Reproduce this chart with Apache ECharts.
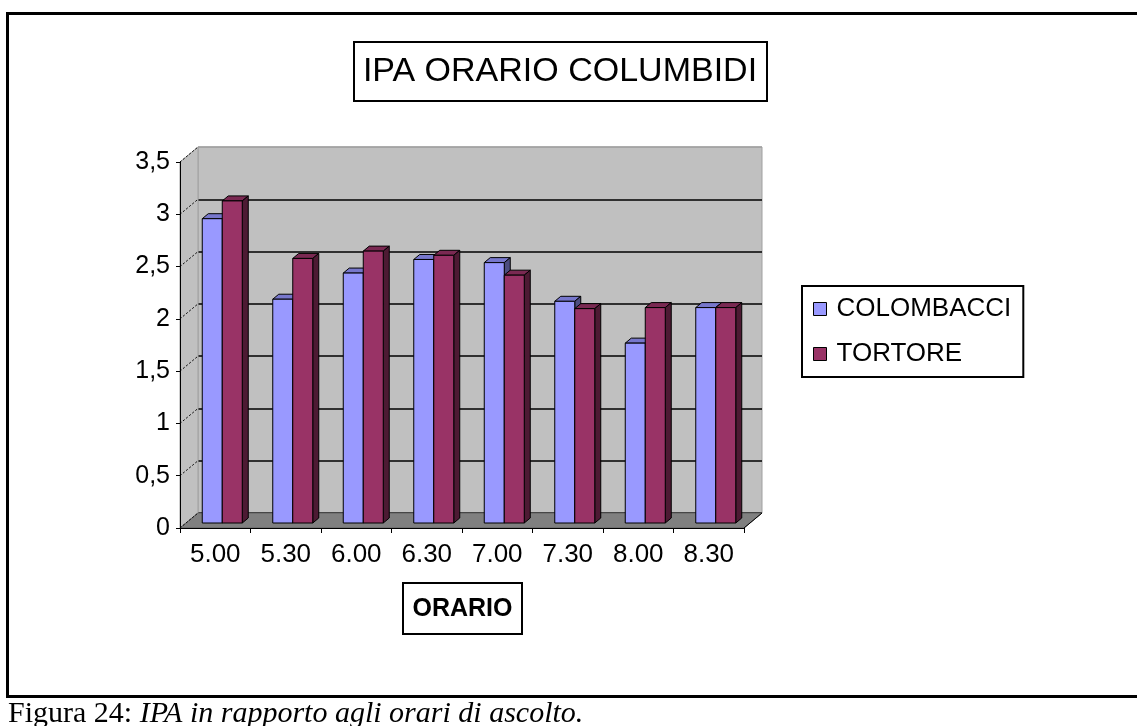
<!DOCTYPE html>
<html>
<head>
<meta charset="utf-8">
<script src="https://cdn.jsdelivr.net/npm/echarts@6/dist/echarts.min.js"></script>
<style>
html,body{margin:0;padding:0;background:#fff;}
#main{width:1137px;height:726px;}
</style>
</head>
<body>
<div id="main"></div>
<script>
// ---- data ----
const categories = ['5.00','5.30','6.00','6.30','7.00','7.30','8.00','8.30'];
const colombacci = [2.91, 2.14, 2.39, 2.52, 2.49, 2.12, 1.72, 2.06];
const tortore    = [3.08, 2.53, 2.60, 2.56, 2.37, 2.05, 2.06, 2.06];
const seriesNames = ['COLOMBACCI','TORTORE'];
const yTicks = [0, 0.5, 1, 1.5, 2, 2.5, 3, 3.5];
const chartTitle = 'IPA ORARIO COLUMBIDI';
const axisTitle = 'ORARIO';

// ---- layout ----
const FONT = "'Liberation Sans', Arial, sans-serif";
const SERIF = "'Liberation Serif','Times New Roman',serif";
const FRONT = {left:180, top:162, width:564, height:366};
const BACK  = {left:198, top:147, width:564, height:366};
const BARS  = {left:187, top:157, width:564, height:366};
const BAR_W = 20, DX = 6, DY = 5;

const chart = echarts.init(document.getElementById('main'), null, {renderer:'canvas'});

function bar3d(front, topC, sideC, side) {
  return function (params, api) {
    const ci = api.value(0), v = api.value(1);
    const p0 = api.coord([ci, 0]);
    const p1 = api.coord([ci, v]);
    const x = side < 0 ? p0[0] - BAR_W : p0[0];
    const y = p1[1], h = p0[1] - p1[1];
    return {
      type: 'group',
      children: [
        {type:'polygon', shape:{points:[[x,y],[x+DX,y-DY],[x+BAR_W+DX,y-DY],[x+BAR_W,y]]},
         style:{fill:topC, stroke:'#000', lineWidth:1}},
        {type:'polygon', shape:{points:[[x+BAR_W,y],[x+BAR_W+DX,y-DY],[x+BAR_W+DX,y+h-DY],[x+BAR_W,y+h]]},
         style:{fill:sideC, stroke:'#000', lineWidth:1}},
        {type:'rect', shape:{x:x, y:y, width:BAR_W, height:h},
         style:{fill:front, stroke:'#000', lineWidth:1}}
      ]
    };
  };
}

const frameGraphics = [
  {id:'frameTop', type:'line', shape:{x1:7, y1:13.5, x2:1137, y2:13.5}, style:{stroke:'#000', lineWidth:3}, z:100},
  {id:'frameLeft', type:'line', shape:{x1:7.5, y1:12, x2:7.5, y2:697}, style:{stroke:'#000', lineWidth:3}, z:100},
  {id:'frameBottom', type:'line', shape:{x1:6, y1:696.5, x2:1137, y2:696.5}, style:{stroke:'#000', lineWidth:3}, z:100},
  {id:'titleBox', type:'rect', shape:{x:354, y:42, width:413, height:59}, style:{fill:'#fff', stroke:'#000', lineWidth:2}, z:100},
  {id:'titleText', type:'text', x:560, y:72, z:101,
   style:{text:chartTitle, font:"34px " + FONT, fill:'#000', align:'center', verticalAlign:'middle'}},
  {id:'axBox', type:'rect', shape:{x:403, y:583, width:119, height:51}, style:{fill:'#fff', stroke:'#000', lineWidth:2}, z:100},
  {id:'axText', type:'text', x:462.5, y:609, z:101,
   style:{text:axisTitle, font:"bold 25px " + FONT, fill:'#000', align:'center', verticalAlign:'middle'}},
  {id:'caption', type:'text', x:8, y:699, z:101,
   style:{
     text:'{n|Figura 24: }{i|IPA in rapporto agli orari di ascolto.}',
     rich:{
       n:{fontFamily:SERIF, fontSize:30, fill:'#000', color:'#000'},
       i:{fontFamily:SERIF, fontSize:30, fontStyle:'italic', fill:'#000', color:'#000'}
     },
     verticalAlign:'top', align:'left'
   }},
  // left side wall
  {id:'leftWall', type:'polygon', z:-5,
   shape:{points:[[FRONT.left,FRONT.top],[BACK.left,BACK.top],[BACK.left,BACK.top+BACK.height],[FRONT.left,FRONT.top+FRONT.height]]},
   style:{fill:'#c0c0c0', stroke:'#a0a0a0', lineWidth:1}},
  // floor
  {id:'floor', type:'polygon', z:-4,
   shape:{points:[[FRONT.left,FRONT.top+FRONT.height],[BACK.left,BACK.top+BACK.height],[BACK.left+BACK.width,BACK.top+BACK.height],[FRONT.left+FRONT.width,FRONT.top+FRONT.height]]},
   style:{fill:'#808080', stroke:'#606060', lineWidth:1}},
  {id:'floorEdge', type:'line', z:-3,
   shape:{x1:FRONT.left+FRONT.width, y1:FRONT.top+FRONT.height, x2:BACK.left+BACK.width, y2:BACK.top+BACK.height},
   style:{stroke:'#000', lineWidth:1}}
];

const option = {
  animation: false,
  backgroundColor: '#fff',
  textStyle: {fontFamily: FONT},
  legend: {
    orient: 'vertical',
    left: 802, top: 286,
    data: seriesNames,
    icon: 'rect',
    itemWidth: 13, itemHeight: 13, itemGap: 19,
    padding: [10, 12, 10, 11],
    borderColor: '#000', borderWidth: 2,
    backgroundColor: '#fff',
    itemStyle: {borderColor:'#000', borderWidth:1},
    textStyle: {fontSize: 26, lineHeight: 26, color: '#000', fontFamily: FONT, padding:[0,0,0,5]}
  },
  grid: [
    Object.assign({show:false}, FRONT),
    Object.assign({show:true, backgroundColor:'#c0c0c0', borderColor:'#a0a0a0', borderWidth:1, z:-10}, BACK),
    Object.assign({show:false}, BARS)
  ],
  xAxis: [
    {type:'category', gridIndex:0, data:categories,
     axisLine:{show:true, lineStyle:{color:'#000', width:1}},
     axisTick:{show:true, length:5, interval:0, lineStyle:{color:'#000'}},
     axisLabel:{fontSize:26, color:'#000', margin:14, fontFamily:FONT, interval:0},
     splitLine:{show:false}, z:5},
    {type:'category', gridIndex:1, data:categories, show:false},
    {type:'category', gridIndex:2, data:categories, show:false}
  ],
  yAxis: [
    {type:'value', gridIndex:0, min:0, max:3.5, interval:0.5,
     axisLine:{show:true, lineStyle:{color:'#000', width:1}},
     axisTick:{show:true, length:4, lineStyle:{color:'#000'}},
     axisLabel:{fontSize:25, color:'#000', margin:10, fontFamily:FONT,
       formatter: v => String(v).replace('.', ',')},
     splitLine:{show:false}, z:5},
    {type:'value', gridIndex:1, min:0, max:3.5, interval:0.5,
     axisLine:{show:false}, axisTick:{show:false}, axisLabel:{show:false},
     splitLine:{show:true, lineStyle:{color:['#000','#000','#000','#000','#000','#000','#000','#a0a0a0'], width:1.5}}, z:-6},
    {type:'value', gridIndex:2, min:0, max:3.5, interval:0.5, show:false, splitLine:{show:false}}
  ],
  series: [
    {name:seriesNames[0], type:'custom', xAxisIndex:2, yAxisIndex:2,
     itemStyle:{color:'#9999ff', borderColor:'#000', borderWidth:1},
     renderItem: bar3d('#9999ff', '#7777cc', '#4d4d80', -1),
     encode:{x:0, y:1},
     data: colombacci.map((v, i) => [i, v]), z:10},
    {name:seriesNames[1], type:'custom', xAxisIndex:2, yAxisIndex:2,
     itemStyle:{color:'#993366', borderColor:'#000', borderWidth:1},
     renderItem: bar3d('#993366', '#7a2952', '#4d1a33', 1),
     encode:{x:0, y:1},
     data: tortore.map((v, i) => [i, v]), z:11}
  ],
  graphic: frameGraphics
};

chart.setOption(option);

// dotted perspective ticks on the left wall
const extra = [];
yTicks.forEach((t, k) => {
  const yf = chart.convertToPixel({yAxisIndex:0}, t);
  const yb = chart.convertToPixel({yAxisIndex:1}, t);
  extra.push({id:'wallTick'+k, type:'line', z:-2,
    shape:{x1:FRONT.left, y1:yf, x2:BACK.left, y2:yb},
    style:{stroke:'#000', lineWidth:1, lineDash:[2,2]}});
});
chart.setOption({graphic: frameGraphics.concat(extra)});
</script>
</body>
</html>
